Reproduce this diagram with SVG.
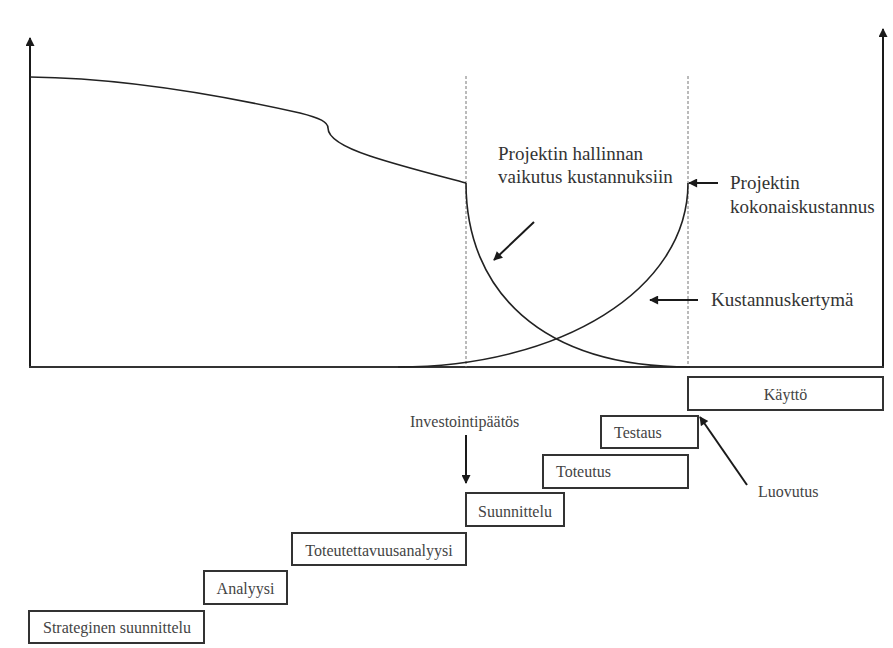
<svg xmlns="http://www.w3.org/2000/svg" width="893" height="648" viewBox="0 0 893 648">
<defs>
<marker id="ah" viewBox="0 0 10 10" refX="9" refY="5" markerWidth="10" markerHeight="9" markerUnits="userSpaceOnUse" orient="auto">
<path d="M0,0 L10,5 L0,10 z" fill="#1a1a1a"/>
</marker>
<style>
.ax{fill:none;stroke:#333;stroke-width:2}
.cv{fill:none;stroke:#222;stroke-width:1.6}
.dash{fill:none;stroke:#777;stroke-width:1;stroke-dasharray:3,2}
.arr{fill:none;stroke:#1a1a1a;stroke-width:2;marker-end:url(#ah)}
.box{fill:#fff;stroke:#333;stroke-width:2}
.lbl{font-family:"Liberation Serif","Times New Roman",serif;font-size:19px;fill:#333}
.bt{font-family:"Liberation Serif","Times New Roman",serif;font-size:16px;fill:#444;text-anchor:middle}
.st{font-family:"Liberation Serif","Times New Roman",serif;font-size:16px;fill:#444}
</style>
</defs>
<rect width="893" height="648" fill="#fff"/>
<g id="axes">
<path class="arr" d="M30,367 L30,38"/>
<path class="arr" d="M883,367 L883,29"/>
<path class="ax" d="M29,367 L884,367"/>
</g>
<g id="guides">
<path class="dash" d="M466,76 L466,367"/>
<path class="dash" d="M688,76 L688,367"/>
</g>
<g id="curves">
<path class="cv" d="M30,77 C120,78 220,95 300,113 C320,118 328,122 328,128 C328,136 340,146 370,156 C400,166 440,176 466,183"/>
<path class="cv" d="M466,183 C466,290 540,367 690,367"/>
<path class="cv" d="M398,367 C560,367 688,290 688,183"/>
</g>
<g id="labels">
<text class="lbl" x="498" y="160">Projektin hallinnan</text>
<text class="lbl" x="498" y="183">vaikutus kustannuksiin</text>
<text class="lbl" x="730" y="189">Projektin</text>
<text class="lbl" x="730" y="213">kokonaiskustannus</text>
<text class="lbl" x="711" y="306">Kustannuskertymä</text>
<text class="st" x="410" y="427">Investointipäätös</text>
<text class="st" x="758" y="497">Luovutus</text>
</g>
<g id="connectors">
<path class="arr" d="M534,222 L494,260"/>
<path class="arr" d="M718,183 L689,183"/>
<path class="arr" d="M698,300 L650,300"/>
<path class="arr" d="M466,435 L466,483"/>
<path class="arr" d="M747,485 L700,417"/>
</g>
<g id="n-strateginen">
<rect class="box" x="29" y="611" width="175" height="32"/>
<text class="bt" x="117" y="633">Strateginen suunnittelu</text>
</g>
<g id="n-analyysi">
<rect class="box" x="204" y="571" width="83" height="33"/>
<text class="bt" x="245.5" y="594">Analyysi</text>
</g>
<g id="n-toteutettavuus">
<rect class="box" x="292" y="533" width="174" height="32"/>
<text class="bt" x="379" y="556">Toteutettavuusanalyysi</text>
</g>
<g id="n-suunnittelu">
<rect class="box" x="466" y="493" width="98" height="33"/>
<text class="bt" x="515" y="517">Suunnittelu</text>
</g>
<g id="n-toteutus">
<rect class="box" x="543" y="455" width="145" height="33"/>
<text class="st" x="556" y="477">Toteutus</text>
</g>
<g id="n-testaus">
<rect class="box" x="601" y="416" width="97" height="32"/>
<text class="st" x="614" y="438">Testaus</text>
</g>
<g id="n-kaytto">
<rect class="box" x="688" y="377" width="195" height="33"/>
<text class="bt" x="785.5" y="400">Käyttö</text>
</g>
</svg>
